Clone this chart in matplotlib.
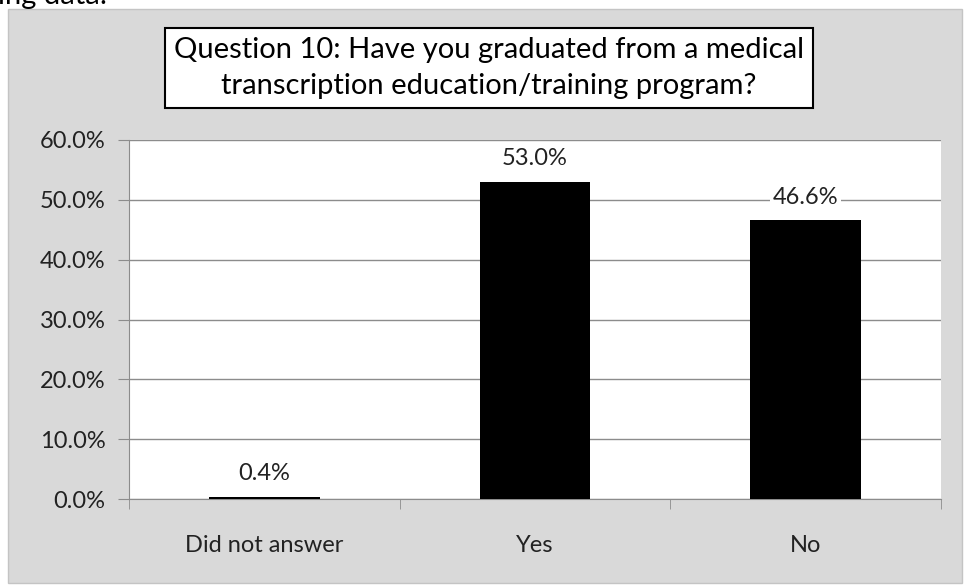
import matplotlib.pyplot as plt
from matplotlib.patches import Rectangle
from matplotlib.ticker import MultipleLocator, FuncFormatter

categories = ["Did not answer", "Yes", "No"]
values = [0.4, 53.0, 46.6]
title = "Question 10: Have you graduated from a medical\ntranscription education/training program?"

plt.rcParams['font.family'] = ['Lato', 'DejaVu Sans']

W, H = 965, 586
fig = plt.figure(figsize=(W / 100, H / 100), dpi=100)
fig.patch.set_facecolor('white')

# gray chart background
bg = fig.add_axes([0, 0, 1, 1], zorder=0)
bg.set_xlim(0, W)
bg.set_ylim(H, 0)
bg.axis('off')
bg.add_patch(Rectangle((8, 9), 954, 574, facecolor='#d9d9d9', edgecolor='#c4c4c4', lw=1))

# cropped text from the page above the chart
fig.text(-2 / W, 1 + 17 / H, "ing data:", fontsize=21, ha='left', va='top', color='black')

ax = fig.add_axes([129 / W, 1 - 499 / H, (941 - 129) / W, (499 - 140) / H], zorder=1)
ax.set_facecolor('white')
x = range(len(categories))
ax.bar(x, values, width=0.41, color='black', zorder=3)
ax.set_xlim(-0.5, 2.5)
ax.set_ylim(0, 60)
ax.yaxis.set_major_locator(MultipleLocator(10))
ax.yaxis.set_major_formatter(FuncFormatter(lambda v, p: f"{v:.1f}%"))
ax.grid(axis='y', color='#8c8c8c', lw=1, zorder=1)
ax.set_axisbelow(True)
for s in ['top', 'right']:
    ax.spines[s].set_visible(False)
for s in ['left', 'bottom']:
    ax.spines[s].set_color('#8c8c8c')
ax.set_xticks(x)
ax.set_xticklabels(categories)
ax.set_xticks([-0.5, 0.5, 1.5, 2.5], minor=True)
ax.tick_params(axis='x', which='major', length=0, pad=26, labelsize=17, colors='#222222')
ax.tick_params(axis='x', which='minor', length=7, color='#8c8c8c', direction='out')
ax.tick_params(axis='y', length=8, color='#8c8c8c', labelsize=17, pad=9, colors='#222222')

for i, v in enumerate(values):
    ax.annotate(f"{v:.1f}%", (i, v), xytext=(0, 9), textcoords='offset points',
                ha='center', va='bottom', fontsize=17, color='#222222', zorder=5,
                bbox=dict(facecolor='white', edgecolor='none', pad=2))

fig.text((163 + 815) / 2 / W, 1 - 68 / H, title, ha='center', va='center', fontsize=21,
         color='black', linespacing=1.5, zorder=3,
         bbox=dict(facecolor='white', edgecolor='black', lw=1.5, boxstyle='square,pad=0.3'))

fig.savefig('out.png', dpi=100)
